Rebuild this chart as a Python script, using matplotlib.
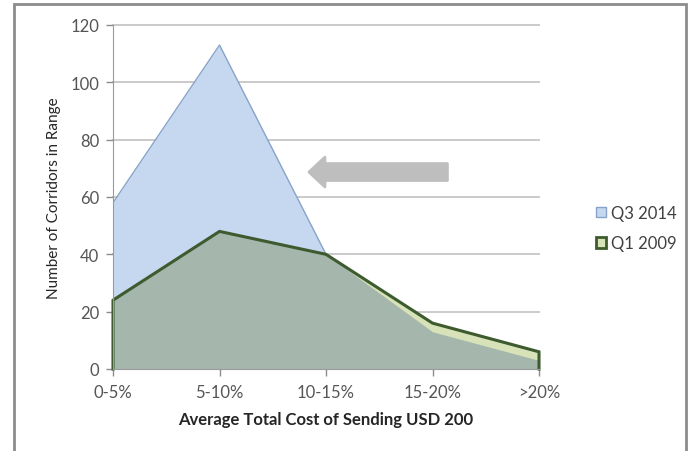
import numpy as np
import matplotlib
matplotlib.use("Agg")
import matplotlib.pyplot as plt
from matplotlib.patches import Rectangle, FancyArrow, Patch

plt.rcParams["font.family"] = ["Lato", "DejaVu Sans"]

# Data
categories = ["0-5%", "5-10%", "10-15%", "15-20%", ">20%"]
q3_2014 = [58, 113, 40, 13, 3]
q1_2009 = [24, 48, 40, 16, 6]
yticks = [0, 20, 40, 60, 80, 100, 120]

W, H = 689, 452
fig = plt.figure(figsize=(W / 100, H / 100), dpi=100)
fig.patch.set_facecolor("white")

# outer chart frame (runs off the bottom edge)
fig.patches.append(Rectangle((14 / W, -0.05), (686 - 14) / W, (452 - 5) / H + 0.05,
                             transform=fig.transFigure, fill=False,
                             edgecolor="#8c8c8c", linewidth=2.0))

ax = fig.add_axes([113 / W, (452 - 370) / H, (539 - 113) / W, (370 - 26) / H])
x = np.arange(len(categories))
q3 = np.array(q3_2014, dtype=float)
q1 = np.array(q1_2009, dtype=float)

grid_c = "#c6c6c6"
for yv in yticks[1:]:
    ax.axhline(yv, color=grid_c, linewidth=1.3, zorder=0, clip_on=False)

# Q3 2014 area
ax.fill_between(x, 0, q3, color="#c6d8f0", zorder=2, linewidth=0)
ax.plot(x, q3, color="#87a3c9", linewidth=1.0, zorder=3)

# Q1 2009 area, shaded darker where it sits over the Q3 2014 area
overlap = np.minimum(q1, q3)
ax.fill_between(x, 0, q1, color="#d7e2b9", zorder=4, linewidth=0)
ax.fill_between(x, 0, overlap, color="#a5b6ad", zorder=5, linewidth=0)
px = np.concatenate([[x[0]], x, [x[-1]]])
py = np.concatenate([[0], q1, [0]])
ax.plot(px, py, color="#3d5b2e", linewidth=2.2, zorder=6,
        solid_joinstyle="miter", clip_on=False)

# arrow pointing toward cheaper corridors
ax.add_patch(FancyArrow(3.14, 68.7, -1.30, 0, width=5.9, head_width=10.4,
                        head_length=0.15, length_includes_head=True,
                        color="#bebebe", linewidth=2.0, joinstyle="round",
                        zorder=7))

ax.set_xlim(0, 4)
ax.set_ylim(0, 120)
ax.set_yticks(yticks)
ax.set_xticks(x)
ax.set_xticklabels(categories)
ax.tick_params(axis="both", colors="#8c8c8c", labelcolor="#555555",
               labelsize=12, length=5, width=1.0)
ax.tick_params(axis="x", pad=6)
ax.tick_params(axis="y", pad=5)
for s in ["top", "right"]:
    ax.spines[s].set_visible(False)
ax.spines["left"].set_color("#9a9a9a")
ax.spines["bottom"].set_color("#9a9a9a")
ax.spines["left"].set_zorder(8)
ax.spines["bottom"].set_zorder(8)
ax.set_facecolor("none")

ax.set_xlabel("Average Total Cost of Sending USD 200", fontsize=12,
              fontweight="bold", color="#262626", labelpad=8)
ax.set_ylabel("Number of Corridors in Range", fontsize=11,
              color="#262626", labelpad=7)

handles = [Patch(facecolor="#c6d8f0", edgecolor="#87a3c9", linewidth=1.0),
           Patch(facecolor="#d7e2b9", edgecolor="#3d5b2e", linewidth=2.0)]
fig.legend(handles, ["Q3 2014", "Q1 2009"], loc="center left",
           bbox_to_anchor=(581 / W, 1 - 229 / H), frameon=False,
           fontsize=12, labelcolor="#404040", handlelength=0.6,
           handleheight=0.6, handletextpad=0.3, labelspacing=0.85)

fig.savefig("out.png", dpi=100)
